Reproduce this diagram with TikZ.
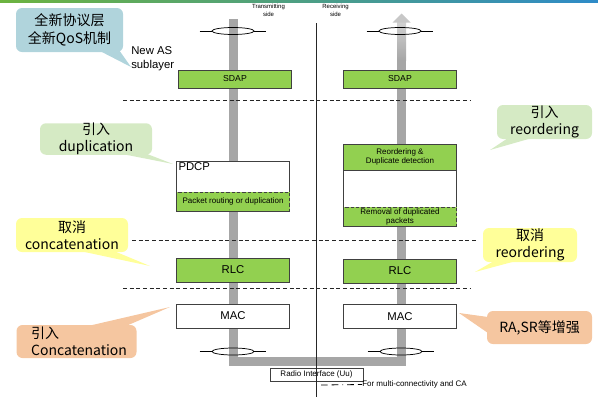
\documentclass[tikz,border=0pt]{standalone}
\usepackage{fontspec}
\setmainfont{Liberation Sans}
\newfontfamily\cjk{Noto Sans CJK SC}
\usetikzlibrary{positioning,calc,shapes.geometric}
\definecolor{layergreen}{HTML}{92D050}
\definecolor{pipegray}{HTML}{A6A6A6}
\definecolor{noteblue}{HTML}{B0D4DC}
\definecolor{notegreen}{HTML}{D5EAC4}
\definecolor{noteyellow}{HTML}{FFFF99}
\definecolor{noteorange}{HTML}{F5C6A0}
\definecolor{topgreen}{HTML}{6CB33F}
\definecolor{topblue}{HTML}{2E8BC8}

\begin{document}
\begin{tikzpicture}[x=0.75pt,y=-0.75pt]
        \tikzset{layer/.style= {draw=black!75, rectangle, align=center, inner sep=0pt, minimum width=84.75pt, minimum height=18pt, font=\fontsize{8.5}{10}\selectfont},
            greenlayer/.style= {layer, fill=layergreen},
            sublayer/.style= {layer, fill=layergreen, dash pattern=on 2.5pt off 1.5pt, minimum height=14.25pt, font=\fontsize{6}{6.8}\selectfont},
            note/.style= {rectangle, rounded corners=4.5pt, align=center, inner sep=0pt, font=\cjk\fontsize{10.5}{12.5}\selectfont},
            sep/.style= {dash pattern=on 3pt off 2pt, black!85},
            pipe/.style= {line width=6.75pt, draw=pipegray},
            bearer/.style= {draw=black, line width=0.55pt, ellipse, inner sep=0pt, minimum width=31.5pt, minimum height=5.25pt},
            tiny/.style= {align=center, inner sep=0pt, font=\fontsize{4.5}{6.5}\selectfont},
        }
        \useasboundingbox (0,0) rectangle (598,400);
        \shade[left color=topgreen, right color=topblue] (0,0) rectangle (598,2);

        \coordinate (pipeTop) at (233,19);
        \coordinate (pipeBL) at (233,361.5);
        \coordinate (pipeBR) at (401.5,361.5);
        \coordinate (pipeEnd) at (401.5,22);
        \draw[pipe] (pipeTop) -- (pipeBL) -- (pipeBR) -- (pipeEnd);
        \shade[top color=black!18, bottom color=pipegray] (397,22) rectangle (406,60);
        \fill[black!22] (392.5,22.5) -- (410.5,22.5) -- (401.5,13.5) -- cycle;

        \node [tiny] (txside) at (268.5,10.5) {Transmitting\\side};
        \node [tiny] (rxside) at (335.5,10.5) {Receiving\\side};

        \node [bearer] (rbTtop) at (233,31) {};
        \node [bearer] (rbRtop) at (400,31) {};
        \node [bearer] (rbTbot) at (233,351.5) {};
        \node [bearer] (rbRbot) at (401,351.5) {};
        \foreach \rb in {rbTtop,rbRtop,rbTbot,rbRbot}{
            \draw[black, line width=0.55pt] ($(\rb.west)+(-12,0)$) -- (\rb.west);
            \draw[black, line width=0.55pt] (\rb.east) -- ($(\rb.east)+(12,0)$);
        }

        \node [greenlayer, minimum height=13.5pt, font=\fontsize{6.5}{7}\selectfont] (sdapT) at (235,79) {SDAP};
        \node [greenlayer, minimum height=13.5pt, font=\fontsize{6.5}{7}\selectfont] (sdapR) at (400,79) {SDAP};

        \node [layer, fill=white, minimum height=37.5pt,
               label={[anchor=north west, inner sep=1.5pt, font=\fontsize{8.5}{10}\selectfont]north west:PDCP}] (pdcpT) at (233,186) {};
        \node [sublayer, anchor=south] (routeT) at (pdcpT.south) {Packet routing or duplication};

        \node [layer, fill=white, minimum height=61.5pt] (pdcpR) at (400,185) {};
        \node [greenlayer, anchor=north, minimum height=19.5pt, font=\fontsize{6}{6.8}\selectfont] (reordR) at (pdcpR.north) {Reordering \&\\Duplicate detection};
        \node [sublayer, anchor=south] (removeR) at (pdcpR.south) {Removal of duplicated\\packets};

        \node [greenlayer] (rlcT) at (233,270) {RLC};
        \node [greenlayer] (rlcR) at (400,271) {RLC};
        \node [layer, fill=white] (macT) at (233,316) {MAC};
        \node [layer, fill=white] (macR) at (400,316.5) {MAC};

        \draw[sep] (123,100.5) -- (470,100.5);
        \draw[sep] (132,240) -- (477,240);
        \draw[sep] (123,288) -- (470,288);

        \node [layer, fill=white, minimum width=69.75pt, minimum height=9.75pt, font=\fontsize{6}{7}\selectfont] (radio) at (316.5,374.5) {Radio Interface (Uu)};
        \draw[black!85, line width=0.75pt] (316,23) -- (316,397);

        \node [anchor=west, inner sep=0pt, font=\fontsize{6}{7}\selectfont] (legend) at (362,384.5) {For multi-connectivity and CA};
        \coordinate (legStart) at (321,385);
        \draw[black, line width=0.6pt, dash pattern=on 5pt off 3pt on 5pt off 3pt on 0.6pt off 3pt] (legStart) -- (legend.west);

        \node [anchor=west, align=left, inner sep=0pt, font=\fontsize{8.5}{10.5}\selectfont] (newas) at (131,59) {New AS\\sublayer};

        \node [note, fill=noteblue, minimum width=80.25pt, minimum height=33pt, font=\cjk\fontsize{10.5}{13.5}\selectfont] (qosnote) at (69.5,30) {全新协议层\\全新QoS机制};
        \coordinate (qosTip) at (131,67);
        \fill[noteblue] (98,50) -- (qosTip) -- (119,50) -- cycle;

        \node [note, fill=notegreen, minimum width=84pt, minimum height=21pt] (dupnote) at (96,139) {引入\\duplication};
        \coordinate (dupTip) at (173,164);
        \fill[notegreen] (112,152) -- (dupTip) -- (142,152) -- cycle;

        \node [note, fill=notegreen, minimum width=71.25pt, minimum height=25.5pt] (reordnote) at (544.5,122) {引入\\reordering};
        \coordinate (reordTip) at (490,150);
        \fill[notegreen] (508,138) -- (reordTip) -- (532,138) -- cycle;

        \node [note, fill=noteyellow, minimum width=84pt, minimum height=25.5pt] (concatnote) at (72,235) {取消\\concatenation};
        \coordinate (concatTip) at (150,266);
        \fill[noteyellow] (80,251) -- (concatTip) -- (114,251) -- cycle;

        \node [note, fill=noteyellow, minimum width=70.5pt, minimum height=25.5pt] (noreordnote) at (530,245) {取消\\reordering};
        \coordinate (noreordTip) at (475,272);
        \fill[noteyellow] (494,261) -- (noreordTip) -- (516,261) -- cycle;

        \node [note, fill=noteorange, align=left, text width=68pt, inner xsep=11pt, minimum height=24.75pt] (macnote) at (76.5,341.5) {引入\\Concatenation};
        \coordinate (macTip) at (170,307);
        \fill[noteorange] (88,326) -- (macTip) -- (126,326) -- cycle;

        \node [note, fill=noteorange, minimum width=78.75pt, minimum height=24.75pt] (ranote) at (539.5,327.5) {RA,SR等增强};
        \coordinate (raTip) at (459,313);
        \fill[noteorange] (488,317) -- (raTip) -- (488,333) -- cycle;
\end{tikzpicture}
\end{document}
